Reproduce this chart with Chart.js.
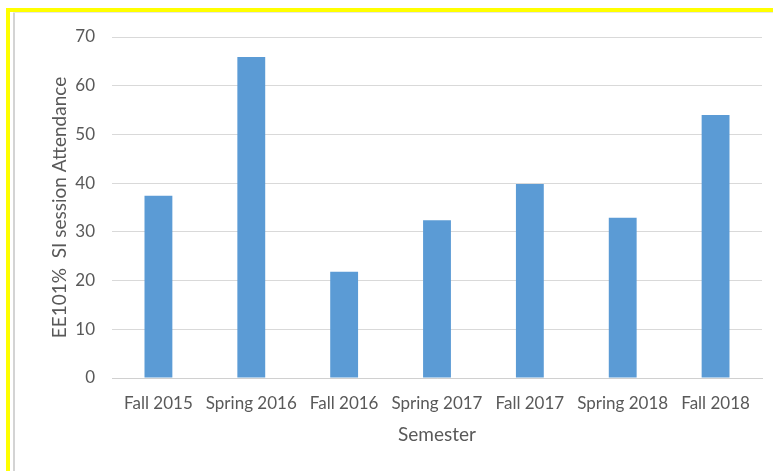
<!DOCTYPE html>
<html>
<head>
<meta charset="utf-8">
<script src="https://cdn.jsdelivr.net/npm/chart.js@4/dist/chart.umd.min.js"></script>
<style>
  html, body { margin: 0; padding: 0; background: #fff; }
  #wrap { position: relative; width: 773px; height: 471px; overflow: hidden; }
  canvas { position: absolute; left: 0; top: 0; }
  .yb { position: absolute; background: #ffff00; }
  .gb { position: absolute; background: #d4d4d4; }
</style>
</head>
<body>
<div id="wrap">
  <canvas id="c" width="773" height="471"></canvas>
  <div class="yb" style="left:6px;top:8px;width:767px;height:4px;"></div>
  <div class="yb" style="left:6px;top:8px;width:4px;height:463px;"></div>
  <div class="gb" style="left:13px;top:12px;width:2px;height:459px;"></div>
  <div class="gb" style="left:13px;top:12px;width:760px;height:1px;background:#e6e6e6;"></div>
</div>
<script>
const categories = ["Fall 2015", "Spring 2016", "Fall 2016", "Spring 2017", "Fall 2017", "Spring 2018", "Fall 2018"];
const attendance = [37.4, 65.9, 21.8, 32.4, 39.8, 32.9, 54.0];
const yTicks = [0, 10, 20, 30, 40, 50, 60, 70];
const yTitle = "EE101%  SI session Attendance";
const xTitle = "Semester";

const fontFam = "Lato, 'Open Sans', sans-serif";
new Chart(document.getElementById('c'), {
  type: 'bar',
  data: {
    labels: categories,
    datasets: [{
      data: attendance,
      backgroundColor: '#5b9bd5',
      borderWidth: 0,
      barPercentage: 0.6,
      categoryPercentage: 0.5
    }]
  },
  options: {
    responsive: false,
    animation: false,
    layout: { padding: { left: 48, right: 11, top: 37, bottom: 21 } },
    plugins: { legend: { display: false }, tooltip: { enabled: false } },
    scales: {
      x: {
        grid: { display: false, drawTicks: false },
        border: { display: true, color: '#d0d0d0', width: 1 },
        ticks: { color: '#595959', font: { family: fontFam, size: 17 }, padding: 15, maxRotation: 0, autoSkip: false },
        title: { display: true, text: xTitle, color: '#595959', font: { family: fontFam, size: 19 }, padding: { top: 4, bottom: 4 } },
        afterFit: s => { s.height = 72; }
      },
      y: {
        min: 0, max: 70,
        afterBuildTicks: s => { s.ticks = yTicks.map(v => ({ value: v })); },
        grid: { color: '#d9d9d9', drawTicks: false, lineWidth: 1 },
        border: { display: false },
        ticks: { color: '#595959', font: { family: fontFam, size: 17 }, padding: 17 },
        title: { display: true, text: yTitle, color: '#595959', font: { family: fontFam, size: 19 }, padding: { top: 0, bottom: 4 } },
        afterFit: s => { s.width = 64; }
      }
    }
  }
});
</script>
</body>
</html>
